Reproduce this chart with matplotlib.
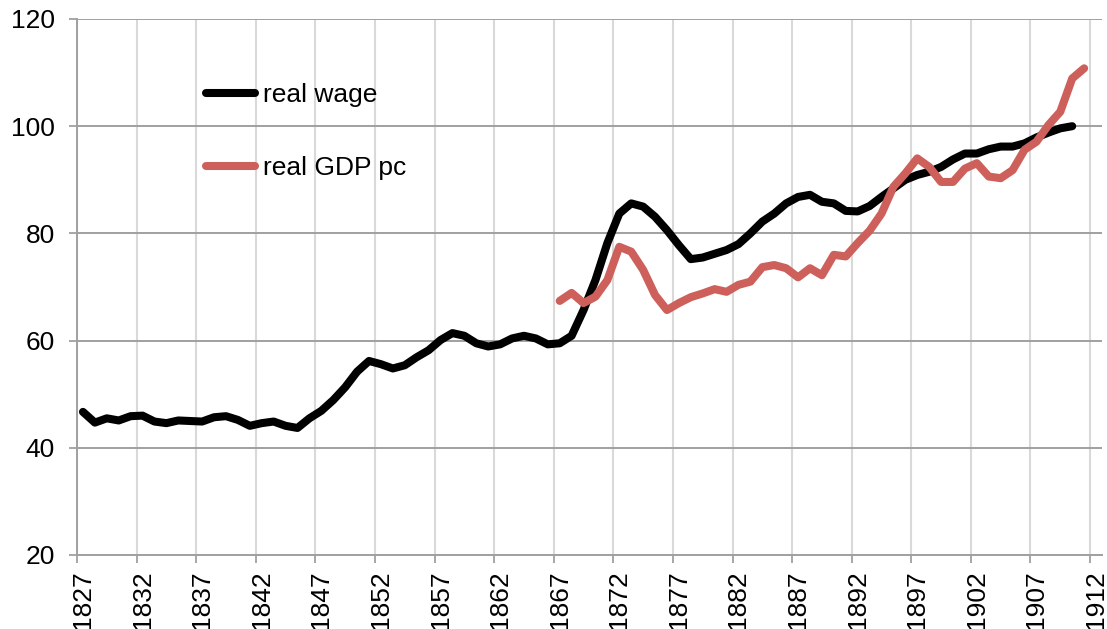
# -*- coding: utf-8 -*-
"""
    Real wage and real GDP per capita, 1827-1912
"""

import numpy as np
import matplotlib
matplotlib.use("Agg")
import matplotlib.pyplot as plt
from matplotlib.ticker import FixedLocator, NullFormatter

#========== DATA ==========#

wage_years = list(range(1827, 1911))
real_wage = [46.7, 44.7, 45.5, 45.1, 45.9, 46.0, 44.9, 44.6, 45.1, 45.0,
             44.9, 45.7, 45.9, 45.2, 44.1, 44.6, 44.9, 44.1, 43.7, 45.5,
             46.9, 48.9, 51.3, 54.2, 56.2, 55.6, 54.8, 55.4, 56.9, 58.2,
             60.1, 61.4, 60.9, 59.5, 58.9, 59.3, 60.4, 60.9, 60.4, 59.3,
             59.5, 60.9, 65.7, 71.3, 78.2, 83.7, 85.6, 85.0, 83.1, 80.6,
             77.8, 75.2, 75.5, 76.2, 76.9, 78.0, 80.0, 82.2, 83.7, 85.6,
             86.8, 87.2, 85.9, 85.6, 84.2, 84.1, 85.1, 86.8, 88.4, 90.0,
             90.9, 91.5, 92.4, 93.8, 94.9, 94.9, 95.7, 96.2, 96.2, 96.8,
             97.9, 98.8, 99.6, 100.0]

gdp_years = list(range(1867, 1912))
real_gdp_pc = [67.4, 68.9, 67.0, 68.2, 71.3, 77.5, 76.6, 73.2, 68.5, 65.7,
               67.0, 68.1, 68.8, 69.6, 69.1, 70.4, 71.0, 73.7, 74.1, 73.5,
               71.8, 73.5, 72.2, 76.0, 75.7, 78.2, 80.5, 83.7, 88.7, 91.2,
               94.0, 92.4, 89.6, 89.6, 92.1, 93.1, 90.6, 90.3, 91.8, 95.6,
               97.1, 100.2, 102.7, 108.9, 110.8]

tick_years = list(range(1827, 1913, 5))
y_ticks = [20, 40, 60, 80, 100, 120]

#========== PLOT ==========#

plt.rcParams['font.family'] = ['Liberation Sans', 'DejaVu Sans']

fig = plt.figure(figsize=(11.07, 6.29), dpi=100)
ax = fig.add_axes([77 / 1107, 74 / 629, 1025 / 1107, 536 / 629])

ax.plot(wage_years, real_wage, color='black', lw=5.8,
        solid_capstyle='round', solid_joinstyle='round', label='real wage',
        zorder=3)
ax.plot(gdp_years, real_gdp_pc, color='#cd605b', lw=5.8,
        solid_capstyle='round', solid_joinstyle='round', label='real GDP pc',
        zorder=4)

ax.set_xlim(1826.5, 1912.5)
ax.set_ylim(20, 120)

# category boundaries carry grid and tick marks, labels sit in the middle
ax.xaxis.set_major_locator(FixedLocator([y - 0.5 for y in tick_years]))
ax.xaxis.set_major_formatter(NullFormatter())
ax.xaxis.set_minor_locator(FixedLocator(tick_years))
ax.set_xticklabels([str(y) for y in tick_years], minor=True, rotation=90,
                   fontsize=19)
ax.tick_params(axis='x', which='major', length=6, width=1.3,
               color='#a0a0a0', direction='out')
ax.tick_params(axis='x', which='minor', length=0, pad=11)

ax.set_yticks(y_ticks)
ax.set_yticklabels([str(v) for v in y_ticks], fontsize=19)
ax.tick_params(axis='y', length=6, width=1.3, color='#a0a0a0', pad=10)

ax.xaxis.grid(True, which='major', color='#d9d9d9', lw=1.5, zorder=0)
ax.yaxis.grid(True, color='#a0a0a0', lw=1.4, zorder=1)
ax.set_axisbelow(True)

for side in ['top', 'right']:
    ax.spines[side].set_visible(False)
for side in ['left', 'bottom']:
    ax.spines[side].set_color('#a0a0a0')
    ax.spines[side].set_linewidth(1.4)

ax.legend(loc='upper left', bbox_to_anchor=(193 / 1107, 1 - 70 / 629),
          bbox_transform=fig.transFigure, frameon=False, fontsize=19,
          handlelength=1.85, handletextpad=0.3, labelspacing=1.85,
          borderpad=0)

fig.savefig('out.png', dpi=100)
